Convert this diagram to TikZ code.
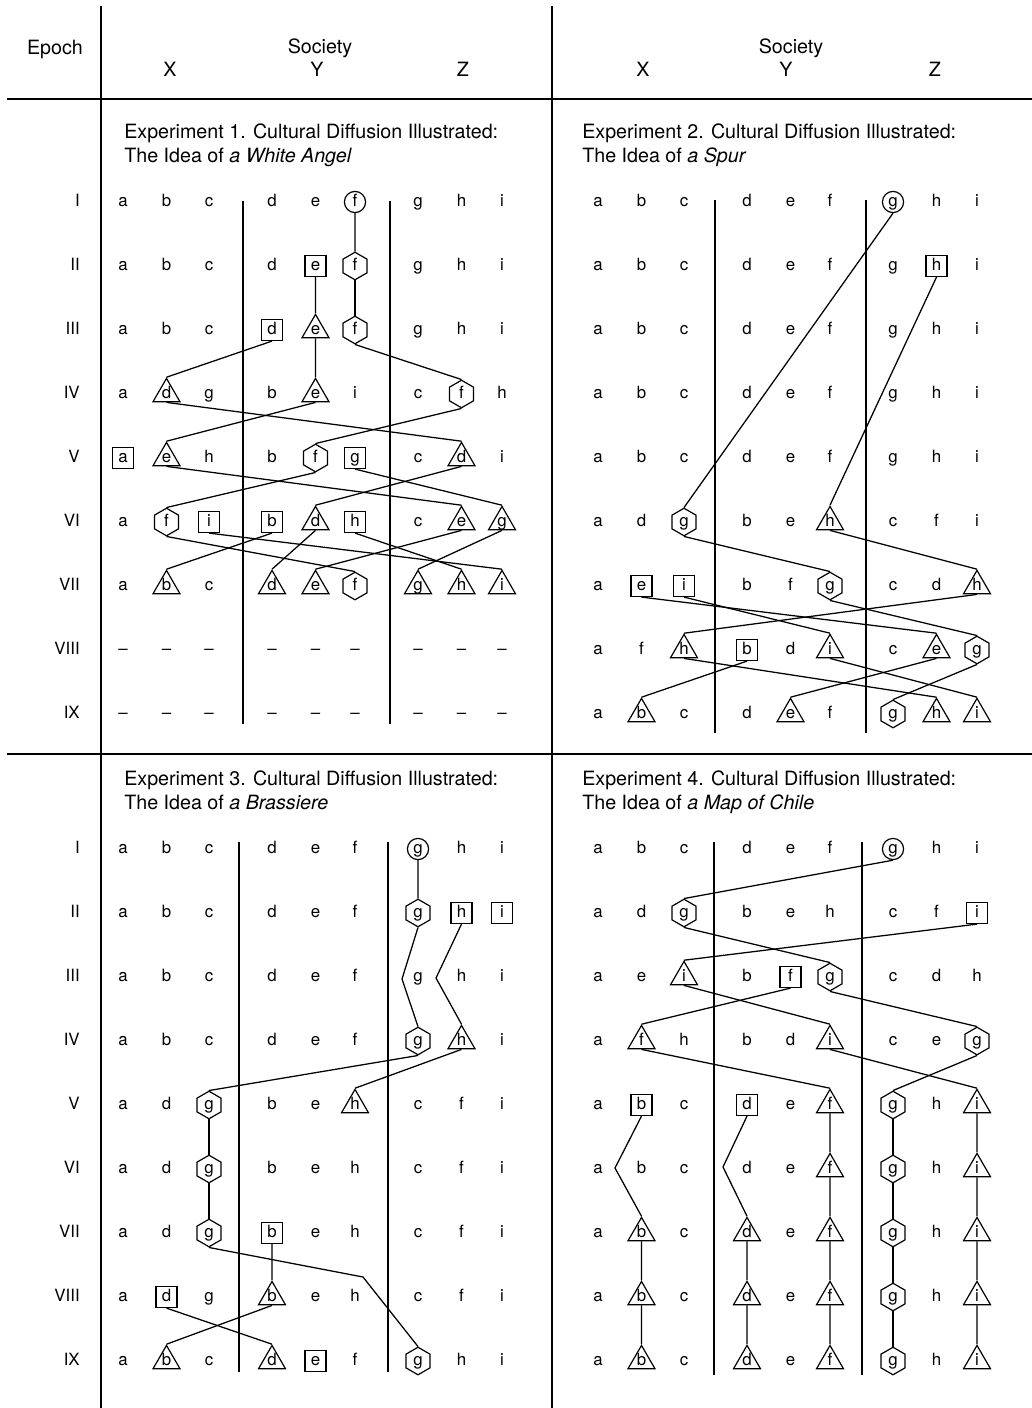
\documentclass[tikz,border=0pt]{standalone}
\usepackage{fontspec}
\setmainfont{TeX Gyre Heros}
\usetikzlibrary{shapes.geometric}

\newcommand{\gridfont}{\fontsize{12}{14}\selectfont}
\newcommand{\headfont}{\fontsize{14}{17}\selectfont}

% one epoch row of a panel: panel, row, y, first column x, cells (shape/letter)
\newcommand{\epochrow}[5]{%
  \foreach \shp/\ltr [count=\col] in {#5} {
    \pgfmathsetmacro{\cx}{#4+{0,43.5,86,149,192.5,232,295,338.5,379}[\col-1]}
    \node[c-\shp] (#1-#2-\col) at (\cx,#3) {\ltr};
  }%
}

\begin{document}
\begin{tikzpicture}[
  x=0.025cm, y=-0.025cm,
  cell/.style={inner sep=0pt, text height=9pt, text depth=3pt, font=\gridfont},
  c-let/.style={cell},
  c-dash/.style={cell},
  c-box/.style={cell, draw, rectangle, minimum size=0.525cm, line width=0.85pt},
  c-ring/.style={cell, draw, circle, minimum size=0.53cm, line width=0.85pt},
  c-hex/.style={cell, draw, regular polygon, regular polygon sides=6, shape border rotate=90, minimum size=0.62cm, line width=0.85pt},
  c-tri/.style={cell, draw, regular polygon, regular polygon sides=3, minimum size=0.78cm, inner sep=-2.5pt, line width=0.85pt},
  numeral/.style={cell, anchor=east},
  head/.style={inner sep=0pt, font=\headfont, anchor=base},
  title/.style={inner sep=0pt, font=\headfont, anchor=base west},
  frame/.style={line width=1.8pt},
  divider/.style={line width=1.1pt},
  link/.style={line width=0.9pt},
]
\useasboundingbox (0,0) rectangle (1032,1408);

% frame
\draw[frame] (101,6) -- (101,1408);
\draw[frame] (552,6) -- (552,1408);
\draw[frame] (7,99) -- (1032,99);
\draw[frame] (7,754) -- (1032,754);

% header
\node[head] (epoch) at (55,54.5) {Epoch};
\node[head] (soc-l) at (320,53.5) {Society};
\node[head] (xl) at (170,76.5) {X};
\node[head] (yl) at (317,76.5) {Y};
\node[head] (zl) at (463,76.5) {Z};
\node[head] (soc-r) at (791,53.5) {Society};
\node[head] (xr) at (643,76.5) {X};
\node[head] (yr) at (786,76.5) {Y};
\node[head] (zr) at (935,76.5) {Z};

% epochs
\foreach \r [count=\k] in {I,II,III,IV,V,VI,VII,VIII,IX} {
  \node[numeral] (ep1-\k) at (80,{202+64*(\k-1)}) {\r};
  \node[numeral] (ep2-\k) at (80,{849+64*(\k-1)}) {\r};
}

% titles
\node[title] (t1a) at (124,138.5) {Experiment 1. Cultural Diffusion Illustrated:};
\node[title] (t1b) at (124,162.5) {The Idea of \textit{a White Angel}};
\node[title] (t2a) at (582,138.5) {Experiment 2. Cultural Diffusion Illustrated:};
\node[title] (t2b) at (582,162.5) {The Idea of \textit{a Spur}};
\node[title] (t3a) at (124,785.5) {Experiment 3. Cultural Diffusion Illustrated:};
\node[title] (t3b) at (124,809.5) {The Idea of \textit{a Brassiere}};
\node[title] (t4a) at (582,785.5) {Experiment 4. Cultural Diffusion Illustrated:};
\node[title] (t4b) at (582,809.5) {The Idea of \textit{a Map of Chile}};

% society dividers
\draw[divider] (243,201) -- (243,724);
\draw[divider] (390,201) -- (390,724);
\draw[divider] (715,200) -- (715,733);
\draw[divider] (866,200) -- (866,733);
\draw[divider] (239,842) -- (239,1372);
\draw[divider] (388,842) -- (388,1372);
\draw[divider] (714,842) -- (714,1375);
\draw[divider] (862,842) -- (862,1375);

% Experiment 1
\epochrow{p1}{1}{202}{123}{let/a,let/b,let/c,let/d,let/e,ring/f,let/g,let/h,let/i}
\epochrow{p1}{2}{266}{123}{let/a,let/b,let/c,let/d,box/e,hex/f,let/g,let/h,let/i}
\epochrow{p1}{3}{330}{123}{let/a,let/b,let/c,box/d,tri/e,hex/f,let/g,let/h,let/i}
\epochrow{p1}{4}{394}{123}{let/a,tri/d,let/g,let/b,tri/e,let/i,let/c,hex/f,let/h}
\epochrow{p1}{5}{458}{123}{box/a,tri/e,let/h,let/b,hex/f,box/g,let/c,tri/d,let/i}
\epochrow{p1}{6}{522}{123}{let/a,hex/f,box/i,box/b,tri/d,box/h,let/c,tri/e,tri/g}
\epochrow{p1}{7}{586}{123}{let/a,tri/b,let/c,tri/d,tri/e,hex/f,tri/g,tri/h,tri/i}
\epochrow{p1}{8}{650}{123}{dash/\textendash,dash/\textendash,dash/\textendash,dash/\textendash,dash/\textendash,dash/\textendash,dash/\textendash,dash/\textendash,dash/\textendash}
\epochrow{p1}{9}{714}{123}{dash/\textendash,dash/\textendash,dash/\textendash,dash/\textendash,dash/\textendash,dash/\textendash,dash/\textendash,dash/\textendash,dash/\textendash}
\foreach \u/\v in {1-6/2-6, 2-5/3-5, 2-6/3-6, 3-4/4-2, 3-5/4-5, 3-6/4-8,
  4-2/5-8, 4-5/5-2, 4-8/5-5, 5-2/6-8, 5-5/6-2, 5-6/6-9, 5-8/6-5,
  6-2/7-6, 6-3/7-9, 6-4/7-2, 6-5/7-4, 6-6/7-8, 6-8/7-5, 6-9/7-7}
  \draw[link] (p1-\u.south) -- (p1-\v.north);

% Experiment 2
\epochrow{p2}{1}{202}{598}{let/a,let/b,let/c,let/d,let/e,let/f,ring/g,let/h,let/i}
\epochrow{p2}{2}{266}{598}{let/a,let/b,let/c,let/d,let/e,let/f,let/g,box/h,let/i}
\epochrow{p2}{3}{330}{598}{let/a,let/b,let/c,let/d,let/e,let/f,let/g,let/h,let/i}
\epochrow{p2}{4}{394}{598}{let/a,let/b,let/c,let/d,let/e,let/f,let/g,let/h,let/i}
\epochrow{p2}{5}{458}{598}{let/a,let/b,let/c,let/d,let/e,let/f,let/g,let/h,let/i}
\epochrow{p2}{6}{522}{598}{let/a,let/d,hex/g,let/b,let/e,tri/h,let/c,let/f,let/i}
\epochrow{p2}{7}{586}{598}{let/a,box/e,box/i,let/b,let/f,hex/g,let/c,let/d,tri/h}
\epochrow{p2}{8}{650}{598}{let/a,let/f,tri/h,box/b,let/d,tri/i,let/c,tri/e,hex/g}
\epochrow{p2}{9}{714}{598}{let/a,tri/b,let/c,let/d,tri/e,let/f,hex/g,tri/h,tri/i}
\foreach \u/\v in {1-7/6-3, 2-8/6-6, 6-3/7-6, 6-6/7-9, 7-2/8-8, 7-3/8-6,
  7-6/8-9, 7-9/8-3, 8-3/9-8, 8-4/9-2, 8-6/9-9, 8-8/9-5, 8-9/9-7}
  \draw[link] (p2-\u.south) -- (p2-\v.north);

% Experiment 3
\epochrow{p3}{1}{849}{123}{let/a,let/b,let/c,let/d,let/e,let/f,ring/g,let/h,let/i}
\epochrow{p3}{2}{913}{123}{let/a,let/b,let/c,let/d,let/e,let/f,hex/g,box/h,box/i}
\epochrow{p3}{3}{977}{123}{let/a,let/b,let/c,let/d,let/e,let/f,let/g,let/h,let/i}
\epochrow{p3}{4}{1041}{123}{let/a,let/b,let/c,let/d,let/e,let/f,hex/g,tri/h,let/i}
\epochrow{p3}{5}{1105}{123}{let/a,let/d,hex/g,let/b,let/e,tri/h,let/c,let/f,let/i}
\epochrow{p3}{6}{1169}{123}{let/a,let/d,hex/g,let/b,let/e,let/h,let/c,let/f,let/i}
\epochrow{p3}{7}{1233}{123}{let/a,let/d,hex/g,box/b,let/e,let/h,let/c,let/f,let/i}
\epochrow{p3}{8}{1297}{123}{let/a,box/d,let/g,tri/b,let/e,let/h,let/c,let/f,let/i}
\epochrow{p3}{9}{1361}{123}{let/a,tri/b,let/c,tri/d,box/e,let/f,hex/g,let/h,let/i}
\coordinate (p3-gbend1) at (402,979);
\coordinate (p3-hbend1) at (436,978);
\coordinate (p3-gbend2) at (363,1277);
\draw[link] (p3-2-7.south) -- (p3-gbend1) -- (p3-4-7.north);
\draw[link] (p3-2-8.south) -- (p3-hbend1) -- (p3-4-8.north);
\draw[link] (p3-7-3.south) -- (p3-gbend2) -- (p3-9-7.north);
\foreach \u/\v in {1-7/2-7, 4-7/5-3, 4-8/5-6, 5-3/6-3, 6-3/7-3, 7-4/8-4, 8-2/9-4, 8-4/9-2}
  \draw[link] (p3-\u.south) -- (p3-\v.north);

% Experiment 4
\epochrow{p4}{1}{849}{598}{let/a,let/b,let/c,let/d,let/e,let/f,ring/g,let/h,let/i}
\epochrow{p4}{2}{913}{598}{let/a,let/d,hex/g,let/b,let/e,let/h,let/c,let/f,box/i}
\epochrow{p4}{3}{977}{598}{let/a,let/e,tri/i,let/b,box/f,hex/g,let/c,let/d,let/h}
\epochrow{p4}{4}{1041}{598}{let/a,tri/f,let/h,let/b,let/d,tri/i,let/c,let/e,hex/g}
\epochrow{p4}{5}{1105}{598}{let/a,box/b,let/c,box/d,let/e,tri/f,hex/g,let/h,tri/i}
\epochrow{p4}{6}{1169}{598}{let/a,let/b,let/c,let/d,let/e,tri/f,hex/g,let/h,tri/i}
\epochrow{p4}{7}{1233}{598}{let/a,tri/b,let/c,tri/d,let/e,tri/f,hex/g,let/h,tri/i}
\epochrow{p4}{8}{1297}{598}{let/a,tri/b,let/c,tri/d,let/e,tri/f,hex/g,let/h,tri/i}
\epochrow{p4}{9}{1361}{598}{let/a,tri/b,let/c,tri/d,let/e,tri/f,hex/g,let/h,tri/i}
\coordinate (p4-bbend) at (615,1168);
\coordinate (p4-dbend) at (723,1167);
\draw[link] (p4-5-2.south) -- (p4-bbend) -- (p4-7-2.north);
\draw[link] (p4-5-4.south) -- (p4-dbend) -- (p4-7-4.north);
\foreach \u/\v in {1-7/2-3, 2-3/3-6, 2-9/3-3, 3-3/4-6, 3-5/4-2, 3-6/4-9,
  4-2/5-6, 4-6/5-9, 4-9/5-7, 5-6/6-6, 6-6/7-6, 7-6/8-6, 8-6/9-6,
  5-7/6-7, 6-7/7-7, 7-7/8-7, 8-7/9-7, 5-9/6-9, 6-9/7-9, 7-9/8-9, 8-9/9-9,
  7-2/8-2, 8-2/9-2, 7-4/8-4, 8-4/9-4}
  \draw[link] (p4-\u.south) -- (p4-\v.north);
\end{tikzpicture}
\end{document}
